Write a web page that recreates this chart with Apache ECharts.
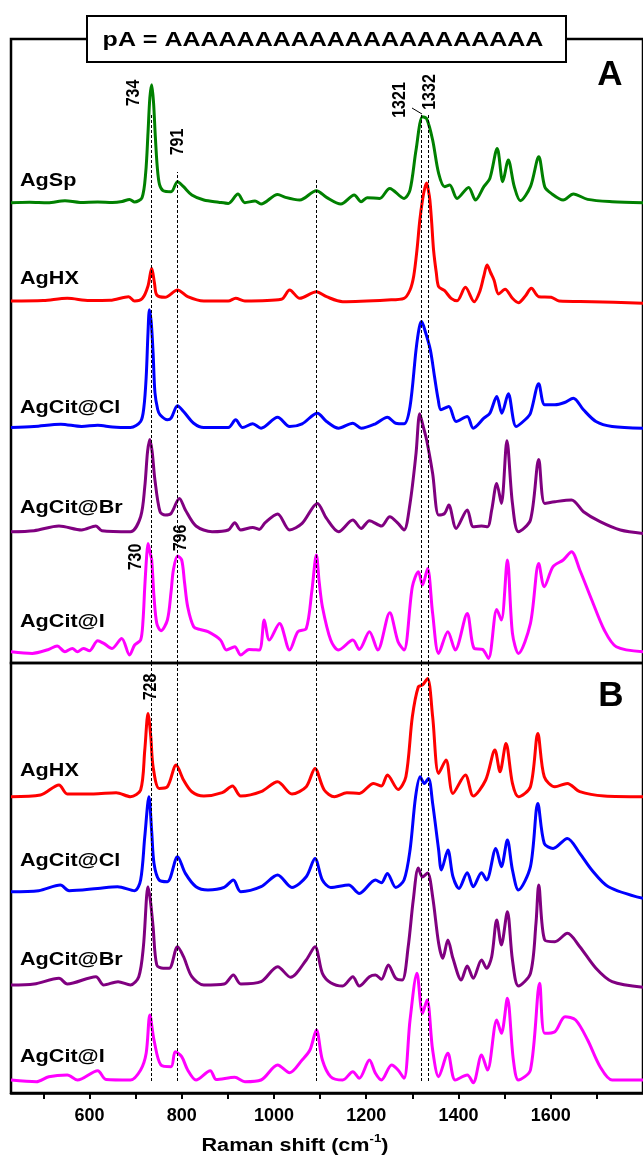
<!DOCTYPE html>
<html>
<head>
<meta charset="utf-8">
<script src="https://cdn.jsdelivr.net/npm/echarts@6/dist/echarts.min.js"></script>
<style>
  html, body { margin: 0; padding: 0; background: #fff; }
  #chart { width: 643px; height: 1156px; }
</style>
</head>
<body>
<div id="chart"></div>
<script>
// each trace: [Raman shift (cm-1), height above its own baseline]
// panel A
const agSpA = [[430,0],[470,0.5],[510,0],[547,2],[580,0.3],[618,0.7],[650,0.3],[671,1.3],[687,3.3],[698,0.7],[714,5],[722,30],[727,70],[731,105],[735,118],[739,100],[743,65],[747,36],[752,18],[760,12],[777,11],[791,21],[804,16],[822,7.7],[848,2.7],[880,0.5],[901,-0.7],[922,8.7],[937,0],[959,1.7],[972,-1.3],[1008,8.3],[1025,5.3],[1056,2.7],[1092,12],[1114,5.3],[1145,-1.3],[1174,7.7],[1189,1],[1202,5],[1229,4.3],[1251,14.3],[1282,4.3],[1295,12.7],[1308,52.7],[1322,86],[1331,84],[1344,62.7],[1357,29.3],[1370,16],[1381,17.7],[1397,4.3],[1422,15.3],[1437,2.7],[1455,16],[1468,24.3],[1484,54.3],[1496,21],[1508,42.7],[1521,16],[1534,2],[1556,16],[1574,46],[1587,16],[1601,9.3],[1627,2.7],[1649,8.7],[1680,3.3],[1733,1],[1800,0]]
const agHxA = [[430,0],[500,0.5],[552,2.7],[600,0.5],[645,0.7],[685,4.3],[698,0],[715,2.7],[727,15],[735,32.7],[741,18],[746,6],[764,3.7],[791,11],[813,4.3],[848,0],[901,0],[917,2.7],[937,0],[1016,1.7],[1034,11],[1056,2.7],[1092,9.3],[1114,4.3],[1149,-0.7],[1246,1],[1282,2.7],[1295,11],[1303,25],[1310,51],[1316,80],[1322,101],[1327,113],[1331,118],[1335,110],[1338,101],[1342,78],[1346,51],[1352,28],[1357,14.3],[1370,10.3],[1384,2.7],[1397,0.3],[1415,13.7],[1434,-0.7],[1446,9.3],[1455,25],[1462,36],[1470,28],[1477,21],[1487,7],[1501,11.7],[1517,2.7],[1530,-1.7],[1545,5],[1558,12.7],[1574,4.3],[1601,3.7],[1618,0],[1689,-0.7],[1800,-2.3]]
const agClA = [[430,0],[480,1],[538,3.3],[583,1],[618,2.3],[650,0.5],[689,0],[711,6],[718,20],[723,50],[727,95],[730,117.7],[734,105],[738,75],[742,35],[748,18],[753,12.7],[769,7.7],[777,9.3],[791,21.7],[804,16],[826,4.3],[848,0],[901,0],[917,7.7],[932,0],[954,3.7],[972,-0.7],[1008,10.3],[1034,1],[1061,3.7],[1094,14.3],[1114,6],[1140,-0.7],[1171,4.3],[1189,-0.7],[1220,3.7],[1246,10.3],[1264,4.3],[1282,3.7],[1295,21],[1308,77.7],[1315,100],[1320,106],[1328,96],[1339,77.7],[1348,51],[1356,28],[1362,17.7],[1379,21],[1395,6],[1419,11],[1432,-0.7],[1455,9.3],[1468,14.3],[1483,31],[1494,14.3],[1508,33.7],[1525,1],[1545,8],[1556,14.3],[1574,43.7],[1587,22.7],[1609,22.7],[1630,25],[1649,29.3],[1671,17.7],[1698,6],[1733,1],[1800,-0.7]]
const agBrA = [[430,0],[480,1],[534,5.7],[583,1.7],[614,5.7],[627,1],[689,0],[711,15],[720,45],[726,80],[731,92.3],[736,80],[742,51.7],[753,20],[764,16.7],[777,18.3],[795,33.3],[808,21.7],[831,5.7],[866,0],[901,1.7],[915,9],[928,1.7],[954,4.3],[968,2.3],[981,9],[1008,17.7],[1034,1.7],[1061,8.3],[1094,28.3],[1114,13.3],[1140,0],[1171,11.7],[1189,3.3],[1207,11],[1233,5.7],[1251,15],[1269,8.3],[1282,1.7],[1295,28.3],[1308,78.3],[1316,118],[1322,108],[1331,91.7],[1344,58.3],[1357,16.7],[1370,18.3],[1379,26.7],[1395,3.3],[1419,21.7],[1432,5],[1450,5.7],[1463,5],[1472,21.7],[1483,48.3],[1493,28.3],[1505,91],[1517,28.3],[1530,0],[1556,11.7],[1574,72.3],[1587,28.3],[1609,30],[1645,31.7],[1671,20],[1707,10],[1751,1.7],[1800,-1.7]]
const agIA = [[430,0],[476,-1.7],[510,2],[530,5.7],[547,0],[563,3.3],[574,0],[587,3.3],[600,1],[618,11],[631,8.3],[649,3.3],[670,13.3],[687,-3.3],[698,6.7],[711,11.7],[716,30],[720,65],[724,95],[727,108.3],[731,100],[735,91.7],[740,55],[746,28.3],[755,21],[769,31.7],[777,60],[782,81.7],[791,95.7],[800,91.7],[806,70],[813,45],[826,25],[839,22.3],[857,20],[884,11.7],[897,1.7],[915,5],[928,-3.3],[946,2.3],[968,1.7],[979,31.7],[990,11.7],[1012,28.3],[1034,1.7],[1052,20],[1070,23.3],[1082,60],[1092,96.7],[1098,70],[1105,45],[1123,11.7],[1140,1.7],[1171,11.7],[1185,2.3],[1207,20],[1225,1.7],[1251,39],[1269,10],[1282,1.7],[1300,65],[1313,80],[1322,66.7],[1333,83.3],[1344,38.3],[1357,-1.7],[1377,20],[1393,1.7],[1419,38.3],[1434,3.3],[1452,2.3],[1465,-6.7],[1483,42.3],[1493,31.7],[1506,91.7],[1517,18.3],[1530,-1.7],[1556,28.3],[1574,88.3],[1586,65],[1605,85],[1627,91.7],[1645,100],[1663,81.7],[1689,51.7],[1716,21.7],[1742,5],[1800,0]]
// panel B
const agHxB = [[430,0],[494,1.7],[534,11.7],[552,2.7],[609,2.7],[658,4],[689,0],[711,6.7],[720,46.7],[727,83.3],[733,60],[738,30],[751,8.3],[769,10],[788,31.7],[804,16.7],[822,5],[848,0.7],[888,4],[910,10.7],[928,0.7],[972,5],[1008,15],[1039,2.7],[1070,10],[1089,28.3],[1109,6.7],[1131,0],[1158,4],[1185,3.3],[1216,13.3],[1233,10.7],[1246,21.7],[1269,7.3],[1286,20],[1300,80],[1313,110],[1322,111.7],[1333,118.3],[1344,80],[1357,23.3],[1373,36.7],[1388,3.3],[1415,21.7],[1432,0.7],[1459,16.7],[1479,46.7],[1490,25],[1503,53.3],[1517,13.3],[1530,0],[1556,10],[1572,63.3],[1586,20],[1609,10],[1636,13.3],[1663,5],[1716,0.7],[1800,0]]
const agClB = [[430,0],[490,1],[537,6.7],[556,1],[618,3.3],[661,5],[698,1],[711,11.7],[720,55],[729,95],[735,60],[740,28.3],[751,11.7],[769,10],[791,35],[808,18.3],[831,5],[857,1.7],[892,4.3],[912,11.7],[928,0],[972,5],[1008,16.7],[1039,4.3],[1070,15],[1089,33.3],[1105,11.7],[1123,4.3],[1162,6.7],[1185,-1.7],[1220,11.7],[1233,9],[1246,18.3],[1264,4.3],[1282,11.7],[1295,41.7],[1307,95],[1317,115],[1326,108.3],[1335,113.3],[1344,88.3],[1357,41.7],[1363,21.7],[1377,41.7],[1388,15],[1401,3.3],[1419,19],[1432,5],[1450,19],[1461,11.7],[1481,43.3],[1493,25],[1506,51.7],[1517,21.7],[1530,1.7],[1556,25],[1572,88.3],[1586,48.3],[1605,43.3],[1636,53.3],[1663,38.3],[1689,21.7],[1725,5],[1800,-6.7]]
const agBrB = [[430,0],[480,1],[534,6.7],[552,1],[614,8.3],[631,0],[662,3.3],[689,0],[707,8.3],[717,38.3],[727,98.3],[732,85],[738,58.3],[746,20],[760,16.7],[773,16.7],[791,38.3],[804,28.3],[822,8.3],[848,0],[892,1],[912,10],[928,1],[972,3.3],[1008,18.3],[1036,7.7],[1070,25],[1089,38.3],[1105,11.7],[1123,2.3],[1149,-1],[1171,8.3],[1185,-1],[1207,8.3],[1220,10],[1233,5.7],[1248,20],[1264,6.7],[1278,5],[1291,38.3],[1302,85],[1313,117],[1322,108],[1333,112],[1344,88.3],[1357,41.7],[1366,26.7],[1377,45],[1388,26.7],[1406,5],[1419,19],[1432,6.7],[1450,25],[1461,16.7],[1472,28.3],[1483,65],[1493,40],[1506,73.3],[1517,25],[1530,-1],[1556,11.7],[1568,61.7],[1574,100],[1587,45],[1609,43.3],[1636,51.7],[1663,38.3],[1698,16.7],[1733,3.3],[1800,-2.3]]
const agIB = [[430,0],[485,-1.7],[512,3.3],[552,5],[574,0],[618,9.3],[636,0.5],[689,0],[711,10],[723,26.7],[731,65],[740,40],[755,15],[777,13.3],[786,28.3],[800,23.3],[813,10],[831,0],[862,9.3],[875,0.5],[915,2.7],[937,-1.7],[972,0],[1008,15],[1034,7.3],[1061,20],[1078,30],[1092,50],[1105,20],[1123,3.3],[1149,0],[1171,8.3],[1185,1.7],[1207,20],[1220,6.7],[1233,0],[1255,15],[1269,10],[1282,1.7],[1295,60],[1310,106.7],[1322,66.7],[1332,80],[1344,30],[1357,3.3],[1377,26.7],[1393,0],[1419,5],[1432,-2.7],[1450,25],[1463,10],[1483,60],[1493,46.7],[1506,81.7],[1519,20],[1530,0],[1556,10],[1576,96.7],[1587,46.7],[1609,48.3],[1631,63.3],[1654,60],[1680,40],[1707,13.3],[1733,0],[1800,0]]

const NAMES_A = ['AgSp', 'AgHX', 'AgCit@Cl', 'AgCit@Br', 'AgCit@I']
const NAMES_B = ['AgHX', 'AgCit@Cl', 'AgCit@Br', 'AgCit@I']
const OFFSETS_A = [460.3, 362, 235.5, 131.3, 11.3]
const OFFSETS_B = [296.3, 201.3, 108, 13]
const DASH_LINES = [734, 790, 1091, 1319, 1335]
const DASH_TOP_A = [550, 491, 483, 548, 548]
const TICK_LABELS = [600, 800, 1000, 1200, 1400, 1600]
const TICK_MINOR = [500, 700, 900, 1100, 1300, 1500, 1700]

const COLORS = {
	'AgSp': '#008000',
	'AgHX': '#ff0000',
	'AgCit@Cl': '#0000ff',
	'AgCit@Br': '#800080',
	'AgCit@I': '#ff00ff',
}
const FONT = '"Liberation Sans", Arial, Helvetica, sans-serif'

/**
 * baseline offset added to every point
 */
function shift(pairs, offset) {
	return pairs.map(p => [p[0], p[1] + offset])
}

function traceSeries(name, pairs, offset, idx) {
	return {
		name: name,
		type: 'line',
		xAxisIndex: idx,
		yAxisIndex: idx,
		data: shift(pairs, offset),
		showSymbol: false,
		smooth: 0.3,
		silent: true,
		z: 3,
		lineStyle: { width: 3, color: COLORS[name] },
		itemStyle: { color: COLORS[name] },
	}
}

// dashed guide lines, drawn under the traces
function dashSeries(idx, tops, bottom) {
	return {
		type: 'line',
		xAxisIndex: idx,
		yAxisIndex: idx,
		data: [],
		z: 1,
		silent: true,
		markLine: {
			silent: true,
			symbol: 'none',
			animation: false,
			label: { show: false },
			lineStyle: { type: [3, 2], color: '#000', width: 1 },
			data: DASH_LINES.map((v, i) => [{ coord: [v, bottom] }, { coord: [v, tops[i]] }]),
		},
	}
}

function txt(x, y, text, size, extra, align) {
	return Object.assign({
		type: 'text',
		x: x,
		y: y,
		silent: true,
		z: 10,
		style: {
			text: text,
			font: 'bold ' + size + 'px ' + FONT,
			fill: '#000',
			align: align || 'left',
			verticalAlign: 'middle',
			textAlign: align || 'left',
			textVerticalAlign: 'middle',
		},
	}, extra || {})
}

// peak position numbers, reading bottom to top
function rotTxt(x, y, text) {
	return txt(x, y, text, 16, { rotation: Math.PI / 2, scaleY: 1.2 }, 'center')
}

const spectraA = [agSpA, agHxA, agClA, agBrA, agIA]
const spectraB = [agHxB, agClB, agBrB, agIB]

const series = []
series.push(dashSeries(0, DASH_TOP_A, 0))
series.push(dashSeries(1, DASH_LINES.map(() => 430), 12))
NAMES_A.forEach((n, i) => series.push(traceSeries(n, spectraA[i], OFFSETS_A[i], 0)))
NAMES_B.forEach((n, i) => series.push(traceSeries(n, spectraB[i], OFFSETS_B[i], 1)))

// name labels (pixel baselines)
const labelY = [181, 279, 408, 508, 622, 771, 861, 960, 1057]
const labelText = NAMES_A.concat(NAMES_B)
const graphics = labelText.map((t, i) => txt(20, labelY[i], t, 18, { scaleX: 1.2 }))

graphics.push(
	{ type: 'rect', shape: { x: 87, y: 16, width: 479, height: 46 }, style: { fill: '#fff', stroke: '#000', lineWidth: 2 }, z: 9, silent: true },
	txt(323, 40, 'pA = AAAAAAAAAAAAAAAAAAAAA', 21, { scaleX: 1.19 }, 'center'),
	txt(610, 75, 'A', 35, null, 'center'),
	txt(611, 696, 'B', 35, null, 'center'),
	rotTxt(134, 93, '734'),
	rotTxt(178, 142, '791'),
	rotTxt(400, 100, '1321'),
	rotTxt(430, 92, '1332'),
	rotTxt(136, 557, '730'),
	rotTxt(181, 538, '796'),
	rotTxt(151, 687, '728'),
	{ type: 'line', shape: { x1: 412, y1: 108, x2: 422, y2: 114 }, style: { stroke: '#000', lineWidth: 1 }, z: 10, silent: true },
	{
		type: 'text', x: 295, y: 1144, silent: true, z: 10, scaleX: 1.2,
		style: {
			text: '{a|Raman shift (cm}{s|-1}{a|)}',
			align: 'center', verticalAlign: 'middle', textAlign: 'center', textVerticalAlign: 'middle',
			fill: '#000',
			rich: {
				a: { fontSize: 18, fontWeight: 'bold', fontFamily: FONT, lineHeight: 22, verticalAlign: 'bottom' },
				s: { fontSize: 11, fontWeight: 'bold', fontFamily: FONT, lineHeight: 22, verticalAlign: 'top' },
			},
		},
	}
)

const gridBase = { left: 11, right: -3, show: true, borderColor: '#000', borderWidth: 2.5, backgroundColor: 'transparent' }

const option = {
	animation: false,
	backgroundColor: '#fff',
	grid: [
		Object.assign({ top: 39, height: 624 }, gridBase),
		Object.assign({ top: 663, height: 430 }, gridBase),
	],
	xAxis: [
		{ gridIndex: 0, type: 'value', min: 430, max: 1800, show: false },
		{
			gridIndex: 1, type: 'value', min: 430, max: 1800,
			axisLine: { show: true, lineStyle: { color: '#000', width: 2.5 } },
			axisTick: { show: true, length: 6, customValues: TICK_LABELS.concat(TICK_MINOR), lineStyle: { color: '#000', width: 2 } },
			axisLabel: {
				customValues: TICK_LABELS,
				formatter: v => String(v),
				margin: 14, color: '#000', fontSize: 18, fontWeight: 'bold', fontFamily: FONT,
			},
			splitLine: { show: false },
		},
	],
	yAxis: [
		{ gridIndex: 0, type: 'value', min: 0, max: 624, show: false },
		{ gridIndex: 1, type: 'value', min: 0, max: 430, show: false },
	],
	series: series,
	graphic: { elements: graphics },
}

const chart = echarts.init(document.getElementById('chart'), null, { renderer: 'canvas' })
chart.setOption(option)
</script>
</body>
</html>
